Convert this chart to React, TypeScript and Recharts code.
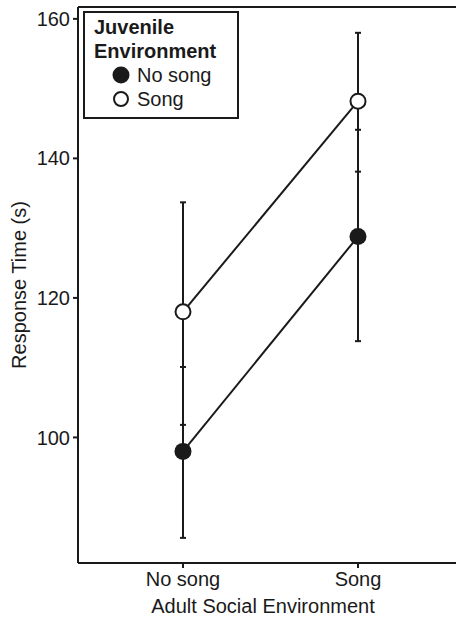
import React from "react";
import { ComposedChart, Line, XAxis, YAxis, ErrorBar, ReferenceLine } from "recharts";

// Adult social environment (x categories)
const categories = ["No song", "Song"];

// Juvenile environment: No song (filled circles)
const noSongMean = [98, 128.8];
const noSongLow = [85.6, 113.8];
const noSongHigh = [110.1, 144.1];

// Juvenile environment: Song (open circles)
const songMean = [118, 148.2];
const songLow = [101.8, 138.1];
const songHigh = [133.7, 158];

const yTicks = [100, 120, 140, 160];
const yDomain = [82, 161.7];

const INK = "#1a1a1a";
const FONT = "'Liberation Sans', Arial, Helvetica, sans-serif";

const rows = categories.map((c, i) => ({
  x: i + 1,
  name: c,
  noSong: noSongMean[i],
  noSongErr: [noSongMean[i] - noSongLow[i], noSongHigh[i] - noSongMean[i]],
  song: songMean[i],
  songErr: [songMean[i] - songLow[i], songHigh[i] - songMean[i]],
}));

function YLabel({ viewBox }: any) {
  const cx = viewBox.x + 19;
  const cy = viewBox.y + viewBox.height / 2;
  return (
    <text
      x={cx}
      y={cy}
      transform={`rotate(-90 ${cx} ${cy})`}
      textAnchor="middle"
      dominantBaseline="central"
      fontSize={20}
      fill={INK}
      fontFamily={FONT}
    >
      Response Time (s)
    </text>
  );
}

function XLabel({ viewBox }: any) {
  return (
    <text
      x={viewBox.x + viewBox.width / 2 - 4}
      y={viewBox.y + 50}
      textAnchor="middle"
      fontSize={20}
      fill={INK}
      fontFamily={FONT}
    >
      Adult Social Environment
    </text>
  );
}

function LegendBox() {
  const row: React.CSSProperties = { display: "flex", alignItems: "center", height: 24 };
  return (
    <div
      style={{
        position: "absolute",
        left: 83,
        top: 11,
        width: 143,
        height: 102,
        border: `2px solid ${INK}`,
        background: "#fff",
        fontFamily: FONT,
        fontSize: 20,
        color: INK,
        lineHeight: "24px",
        padding: "2px 0 0 9px",
        boxSizing: "content-box",
      }}
    >
      <div style={{ fontWeight: "bold" }}>Juvenile</div>
      <div style={{ fontWeight: "bold" }}>Environment</div>
      <div style={{ ...row, paddingLeft: 18 }}>
        <svg width={18} height={18} style={{ marginRight: 7 }}>
          <circle cx={9} cy={9} r={8.5} fill={INK} />
        </svg>
        No song
      </div>
      <div style={{ ...row, paddingLeft: 18 }}>
        <svg width={18} height={18} style={{ marginRight: 7 }}>
          <circle cx={9} cy={9} r={7} fill="#fff" stroke={INK} strokeWidth={2} />
        </svg>
        Song
      </div>
    </div>
  );
}

export default function App() {
  return (
    <div
      style={{
        position: "absolute",
        left: 0,
        top: 0,
        width: 456,
        height: 619,
        overflow: "hidden",
        background: "#fff",
        fontFamily: FONT,
      }}
    >
      <ComposedChart
        width={456}
        height={619}
        data={rows}
        margin={{ top: 7, right: 0, bottom: 0, left: 0 }}
      >
        <XAxis
          dataKey="x"
          type="number"
          domain={[0.4, 2.56]}
          ticks={[1, 2]}
          tickFormatter={(v: number) => categories[v - 1]}
          height={56}
          axisLine={{ stroke: INK, strokeWidth: 2 }}
          tickLine={{ stroke: INK, strokeWidth: 2 }}
          tickSize={5}
          tickMargin={4}
          tick={{ fontSize: 20, fill: INK, fontFamily: FONT }}
          label={<XLabel />}
        />
        <YAxis
          type="number"
          domain={yDomain}
          ticks={yTicks}
          allowDataOverflow
          width={78}
          axisLine={{ stroke: INK, strokeWidth: 2 }}
          tickLine={{ stroke: INK, strokeWidth: 2 }}
          tickSize={5}
          tickMargin={3}
          tick={{ fontSize: 20, fill: INK, fontFamily: FONT }}
          label={<YLabel />}
        />
        <ReferenceLine y={yDomain[1]} stroke={INK} strokeWidth={2} ifOverflow="extendDomain" />
        <Line
          dataKey="noSong"
          stroke={INK}
          strokeWidth={2}
          dot={{ r: 8.5, fill: INK, stroke: INK, strokeWidth: 0 }}
          activeDot={false}
          isAnimationActive={false}
        >
          <ErrorBar dataKey="noSongErr" direction="y" width={3} stroke={INK} strokeWidth={2} />
        </Line>
        <Line
          dataKey="song"
          stroke={INK}
          strokeWidth={2}
          dot={{ r: 7.5, fill: "#fff", stroke: INK, strokeWidth: 2 }}
          activeDot={false}
          isAnimationActive={false}
        >
          <ErrorBar dataKey="songErr" direction="y" width={3} stroke={INK} strokeWidth={2} />
        </Line>
      </ComposedChart>
      <LegendBox />
    </div>
  );
}
